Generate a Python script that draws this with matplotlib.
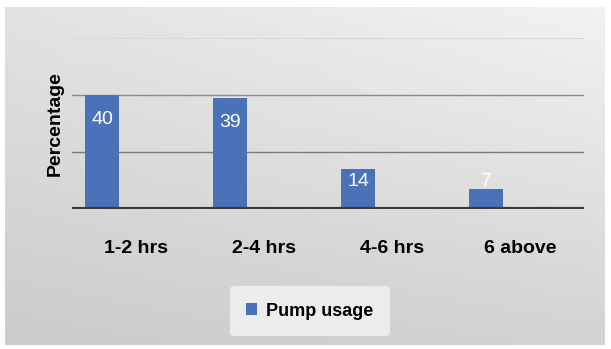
import numpy as np
import matplotlib
matplotlib.use("Agg")
import matplotlib.pyplot as plt

# Données
categories = ["1-2 hrs", "2-4 hrs", "4-6 hrs", "6 above"]
pump_usage = [40, 39, 14, 7]
series_name = "Pump usage"

plt.rcParams['font.family'] = ['Liberation Sans', 'DejaVu Sans']

fig = plt.figure(figsize=(6.11, 3.49), dpi=100, facecolor='white')

# Fond en dégradé gris
bg = fig.add_axes([5/611, 4/349, 600/611, 338/349], zorder=0)
yy, xx = np.mgrid[0:1:200j, 0:1:300j]
shade = 0.945 - 0.12*yy - 0.06*(1-xx)*(1-yy*0.5)
bg.imshow(shade, cmap='gray', vmin=0, vmax=1, aspect='auto', extent=[0, 1, 0, 1], origin='upper')
bg.axis('off')

ax = fig.add_axes([72/611, 1-209/349, 512/611, 171/349], zorder=1)
ax.set_facecolor('none')
x = np.arange(len(categories))
# barres décalées à gauche (comme un graphique groupé)
bars = ax.bar(x - 0.265, pump_usage, width=0.26, color='#4a72b8', zorder=2)
ax.set_xlim(-0.5, len(categories)-0.5)
ax.set_ylim(0, 60)

# Grille
ax.axhline(20, color='#7a7a7a', lw=1, zorder=1)
ax.axhline(40, color='#8a8a8a', lw=1, zorder=1)
ax.axhline(60, color='#d8d8d8', lw=1.5, zorder=1)
ax.axhline(0, color='#3a3a3a', lw=3, zorder=3)

for s in ax.spines.values():
    s.set_visible(False)
ax.set_yticks([])
ax.set_xticks(x)
ax.set_xticklabels(categories, fontsize=14, fontweight='bold')
ax.tick_params(axis='x', length=0, pad=22)
ax.set_ylabel('Percentage', fontsize=14, fontweight='bold', labelpad=6)

# Étiquettes de données
for xi, v in zip(x - 0.265, pump_usage):
    ax.text(xi, max(v - 8.5, 9.5), str(v), ha='center', va='center',
            color='white', fontsize=14, zorder=4)

leg = ax.legend([bars], [series_name], loc='center', bbox_to_anchor=(310/611, 1-311/349),
                bbox_transform=fig.transFigure, frameon=True,
                prop={'weight': 'bold', 'size': 13}, handlelength=0.6, handleheight=0.6,
                handletextpad=0.5, borderpad=0.9)
leg.get_frame().set_facecolor('#ececec')
leg.get_frame().set_edgecolor('none')
leg.get_frame().set_alpha(1)

fig.savefig('out.png', dpi=100, facecolor='white')
